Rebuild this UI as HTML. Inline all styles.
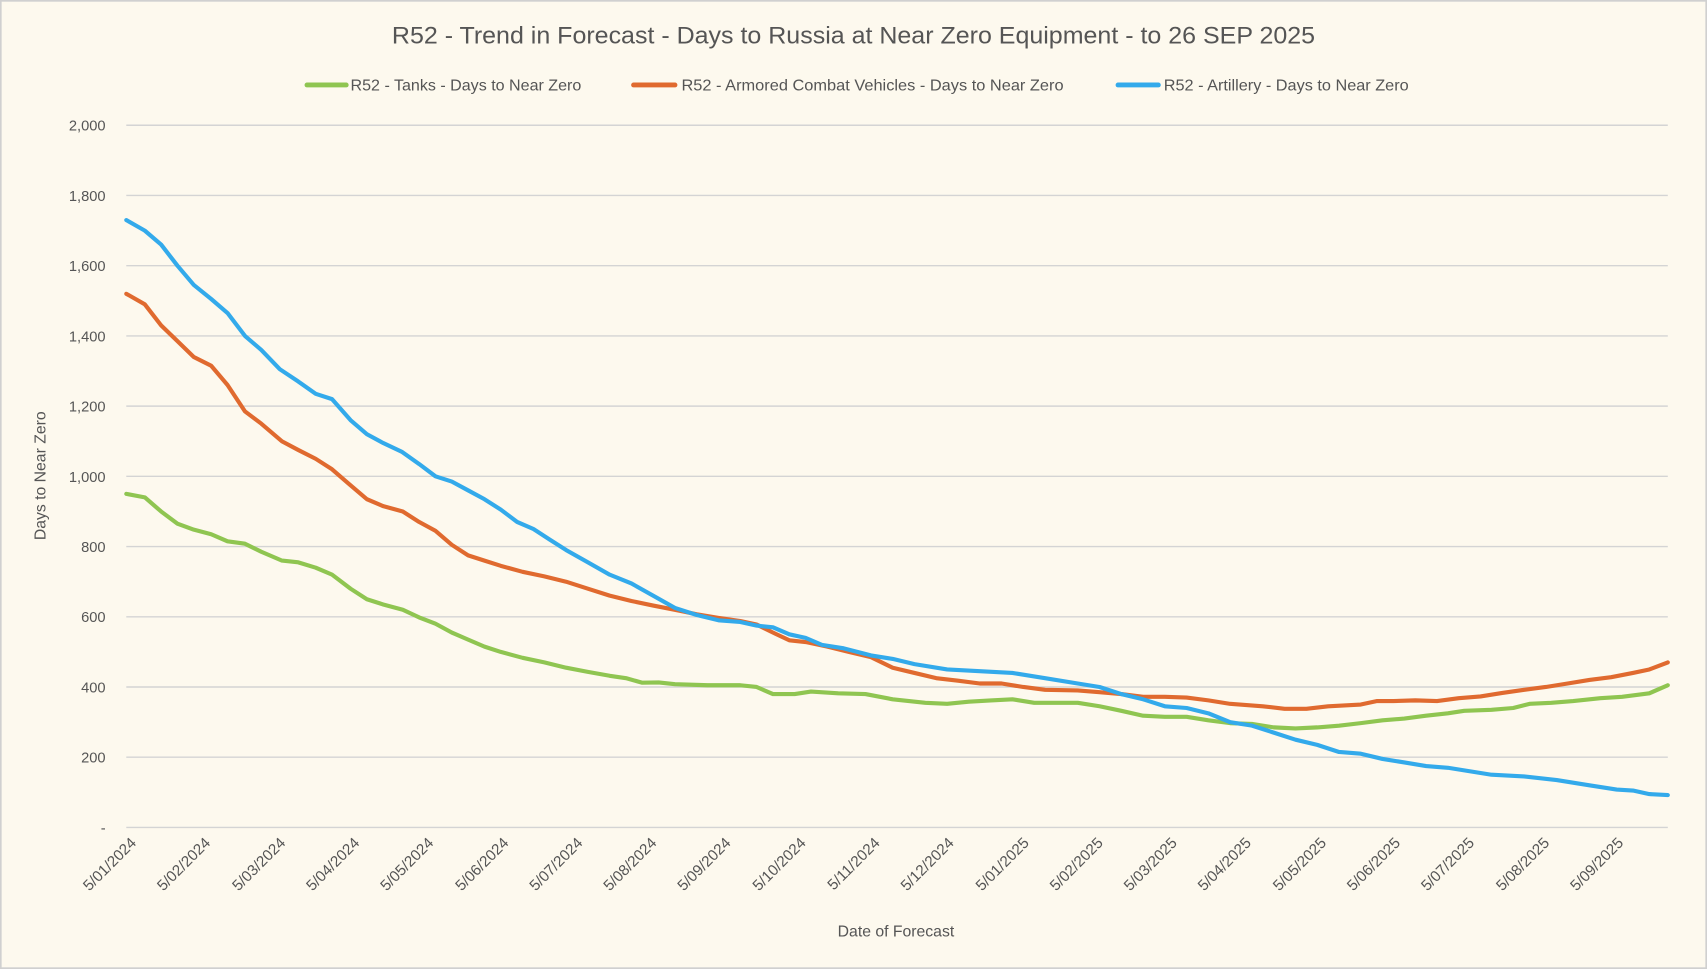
<!DOCTYPE html>
<html><head><meta charset="utf-8"><style>html,body{margin:0;padding:0;background:#fdf9ee;}svg{display:block}</style></head><body>
<svg width="1707" height="969" viewBox="0 0 1568 890" xmlns="http://www.w3.org/2000/svg" font-family="Liberation Sans, sans-serif">
<rect x="0.5" y="0.5" width="1567" height="889" fill="#fdf9ee" stroke="#d0d0d0" stroke-width="2"/>
<text x="360" y="40" font-size="22" fill="#555" textLength="848" lengthAdjust="spacingAndGlyphs">R52 - Trend in Forecast - Days to Russia at Near Zero Equipment - to 26 SEP 2025</text>
<g font-size="14.5" fill="#555">
<line x1="282" y1="78" x2="318" y2="78" stroke="#8fc551" stroke-width="4.5" stroke-linecap="round"/>
<text x="322" y="83" textLength="212" lengthAdjust="spacingAndGlyphs">R52 - Tanks - Days to Near Zero</text>
<line x1="582" y1="78" x2="620" y2="78" stroke="#e06a2f" stroke-width="4.5" stroke-linecap="round"/>
<text x="626" y="83" textLength="351" lengthAdjust="spacingAndGlyphs">R52 - Armored Combat Vehicles - Days to Near Zero</text>
<line x1="1027" y1="78" x2="1064" y2="78" stroke="#33aaeb" stroke-width="4.5" stroke-linecap="round"/>
<text x="1069" y="83" textLength="225" lengthAdjust="spacingAndGlyphs">R52 - Artillery - Days to Near Zero</text>
</g>
<g stroke="#d4d4d4" stroke-width="1.3">
<line x1="116" x2="1532" y1="115" y2="115"/><line x1="116" x2="1532" y1="179.5" y2="179.5"/><line x1="116" x2="1532" y1="244" y2="244"/><line x1="116" x2="1532" y1="308.5" y2="308.5"/><line x1="116" x2="1532" y1="373" y2="373"/><line x1="116" x2="1532" y1="437.5" y2="437.5"/><line x1="116" x2="1532" y1="502" y2="502"/><line x1="116" x2="1532" y1="566.5" y2="566.5"/><line x1="116" x2="1532" y1="631" y2="631"/><line x1="116" x2="1532" y1="695.5" y2="695.5"/><line x1="116" x2="1532" y1="760" y2="760"/>
</g>
<g font-size="13.5" fill="#555" text-anchor="end">
<text x="97" y="120">2,000</text><text x="97" y="184.5">1,800</text><text x="97" y="249">1,600</text><text x="97" y="313.5">1,400</text><text x="97" y="378">1,200</text><text x="97" y="442.5">1,000</text><text x="97" y="507">800</text><text x="97" y="571.5">600</text><text x="97" y="636">400</text><text x="97" y="700.5">200</text><text x="97" y="765">-</text>
</g>
<text transform="translate(42,437) rotate(-90)" font-size="14.5" fill="#555" text-anchor="middle">Days to Near Zero</text>
<text x="823" y="860" font-size="14.5" fill="#555" text-anchor="middle">Date of Forecast</text>
<g font-size="14" fill="#555" text-anchor="end">
<text transform="translate(126,775) rotate(-45)">5/01/2024</text>
<text transform="translate(194,775) rotate(-45)">5/02/2024</text>
<text transform="translate(263,775) rotate(-45)">5/03/2024</text>
<text transform="translate(331,775) rotate(-45)">5/04/2024</text>
<text transform="translate(399,775) rotate(-45)">5/05/2024</text>
<text transform="translate(468,775) rotate(-45)">5/06/2024</text>
<text transform="translate(536,775) rotate(-45)">5/07/2024</text>
<text transform="translate(604,775) rotate(-45)">5/08/2024</text>
<text transform="translate(672,775) rotate(-45)">5/09/2024</text>
<text transform="translate(741,775) rotate(-45)">5/10/2024</text>
<text transform="translate(809,775) rotate(-45)">5/11/2024</text>
<text transform="translate(877,775) rotate(-45)">5/12/2024</text>
<text transform="translate(946,775) rotate(-45)">5/01/2025</text>
<text transform="translate(1014,775) rotate(-45)">5/02/2025</text>
<text transform="translate(1082,775) rotate(-45)">5/03/2025</text>
<text transform="translate(1150,775) rotate(-45)">5/04/2025</text>
<text transform="translate(1219,775) rotate(-45)">5/05/2025</text>
<text transform="translate(1287,775) rotate(-45)">5/06/2025</text>
<text transform="translate(1355,775) rotate(-45)">5/07/2025</text>
<text transform="translate(1424,775) rotate(-45)">5/08/2025</text>
<text transform="translate(1492,775) rotate(-45)">5/09/2025</text>
</g>
<g fill="none" stroke-width="3.8" stroke-linejoin="round" stroke-linecap="round">
<polyline stroke="#8fc551" points="116,453.6 133,456.8 148,469.8 163,481 178,486.5 194,490.7 209,497.2 225,499.4 240,506.8 259,514.9 274,516.5 290,521.4 305,527.8 322,540.7 337,550.4 352,555.2 370,560.1 385,567.1 400,572.9 415,581 430,587.5 445,593.9 460,598.8 480,604.2 500,608.4 520,613.3 540,617.1 560,620.7 575,622.9 590,627.1 605,626.8 620,628.4 650,629.4 680,629.4 695,631 710,637.5 730,637.5 745,635.2 770,636.8 795,637.5 820,642.3 850,645.5 870,646.5 890,644.5 910,643.3 930,642.3 950,645.5 990,645.5 1010,648.7 1030,652.9 1050,657.4 1070,658.4 1090,658.4 1110,661.6 1130,664.2 1150,664.9 1170,668.1 1190,669.1 1210,668.1 1230,666.5 1250,664.2 1270,661.6 1290,660 1310,657.4 1330,655.2 1345,652.9 1370,652 1390,650.3 1405,646.5 1425,645.5 1445,643.9 1470,641.3 1490,640 1515,636.8 1532,629.4"/>
<polyline stroke="#e06a2f" points="116,269.8 133,279.5 148,298.8 163,313.3 178,327.9 194,335.9 209,353.6 225,377.8 240,389.1 259,405.3 274,413.3 290,421.4 305,431 320,444 337,458.5 352,464.9 370,469.8 385,479.4 400,487.5 415,500.4 430,510.1 445,514.9 460,519.7 480,525.2 500,529.4 520,534.3 540,540.7 560,547.1 580,552 600,556.2 620,560.1 640,564.2 660,567.5 680,570.4 695,573.6 710,581 725,588.1 740,589.7 760,593.9 780,598.8 800,603.6 820,613.3 840,618.1 860,622.9 880,625.2 900,627.8 920,627.8 940,631 960,633.6 990,634.2 1010,635.8 1030,637.5 1050,640 1070,640 1090,640.7 1110,643.3 1130,646.5 1160,648.7 1180,651 1200,651 1220,648.7 1250,647.1 1265,643.9 1280,643.9 1300,643.3 1320,643.9 1340,641.3 1360,639.7 1380,636.5 1400,633.6 1420,631 1440,627.8 1460,624.5 1480,622 1500,618.1 1515,614.9 1532,608.4"/>
<polyline stroke="#33aaeb" points="116,202.1 133,211.8 148,224.6 163,244 178,261.7 194,274.6 209,287.5 225,308.5 240,321.4 257,339.1 274,350.4 290,361.7 305,366.6 322,385.9 337,398.8 352,406.9 369,414.9 385,426.2 400,437.5 415,442.3 430,450.4 445,458.5 460,468.1 475,479.4 490,485.9 505,495.6 520,505.2 540,516.5 560,527.8 580,535.9 600,547.1 620,558.4 640,564.9 660,569.7 680,571.3 695,574.6 710,576.2 725,582.6 740,585.9 755,592.3 775,595.5 800,602 820,605.2 840,610 870,614.9 900,616.5 930,618.1 960,622.9 990,627.8 1010,631 1030,637.5 1050,642.3 1070,648.7 1090,650.3 1110,655.2 1130,663.3 1150,666.5 1170,672.9 1190,679.4 1210,684.2 1230,690.7 1250,692.3 1270,697.1 1290,700.3 1310,703.6 1330,705.2 1350,708.4 1370,711.6 1400,713.2 1430,716.5 1460,721.3 1485,725.2 1500,726.1 1515,729.4 1532,730.3"/>
</g>
</svg>
</body></html>
